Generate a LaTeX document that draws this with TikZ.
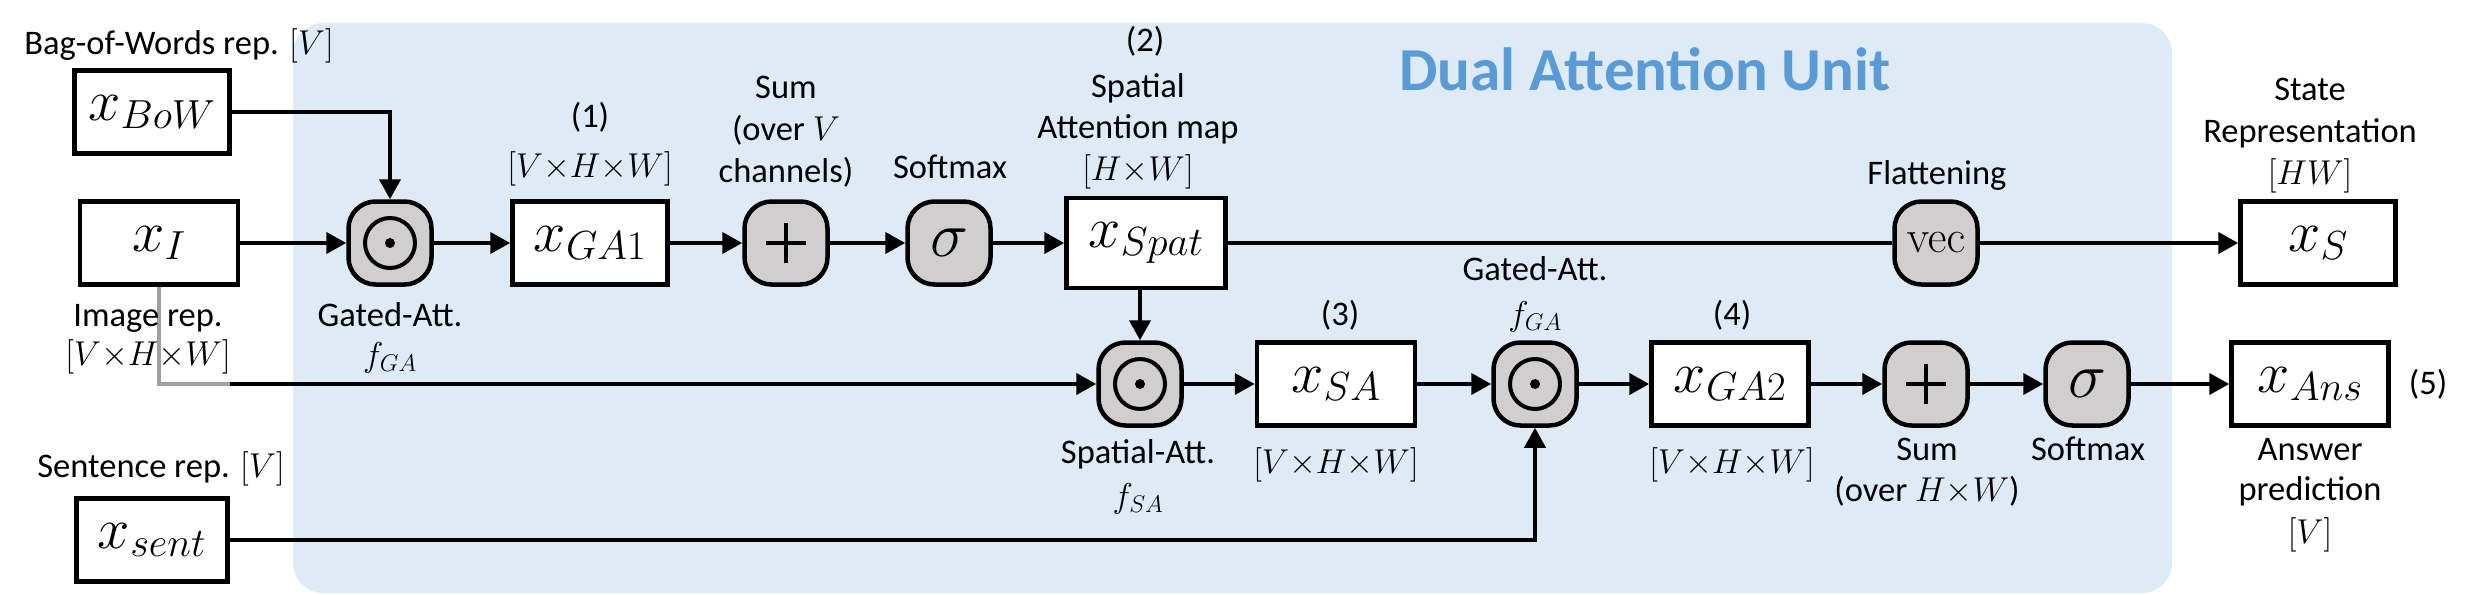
\RequirePackage{fix-cm}
\documentclass[tikz,border=0pt]{standalone}
\usepackage[no-math]{fontspec}
\setmainfont{Carlito}
\usetikzlibrary{arrows.meta}
\definecolor{bgblue}{HTML}{DEEBF7}
\definecolor{titleblue}{HTML}{5B9BD5}
\definecolor{opgray}{HTML}{D0CECE}
\definecolor{linegray}{HTML}{A0A0A0}
\tikzset{
 box/.style={draw, line width=4.5pt, fill=white, minimum width=155pt, minimum height=83pt, inner sep=0pt, font=\fontsize{58}{62}\selectfont},
 opnode/.style={draw, line width=4.5pt, fill=opgray, rounded corners=27pt, minimum width=83pt, minimum height=83pt, inner sep=0pt},
 conn/.style={line width=4pt},
 arr/.style={conn, -{Triangle[length=20pt,width=21pt]}},
 lbl/.style={anchor=base, inner sep=0pt, font=\fontsize{34.5}{41}\selectfont},
 opsym/.style={line width=4pt},
}
\begin{document}
\begin{tikzpicture}[x=1pt,y=-1pt]
\useasboundingbox (0,0) rectangle (2475,594);
\fill[bgblue, rounded corners=30pt] (293,23) rectangle (2172,593);
\node[anchor=base, inner sep=0pt, text=titleblue, font=\fontsize{61}{70}\selectfont\bfseries] (title) at (1645,90) {Dual Attention Unit};

% boxes
\node[box] (bow) at (152,112) {$x_{BoW}$};
\node[box, minimum width=158pt] (xi) at (159,243) {$x_{I}$};
\node[box] (ga1) at (590,243) {$x_{GA1}$};
\node[box, minimum width=159pt, minimum height=90pt] (spat) at (1146,243) {$x_{Spat}$};
\node[box] (xs) at (2318,243) {$x_{S}$};
\node[box, minimum width=158pt] (xsa) at (1336,384) {$x_{SA}$};
\node[box, minimum width=157pt] (ga2) at (1730,384) {$x_{GA2}$};
\node[box, minimum width=157pt] (ans) at (2310,384) {$x_{Ans}$};
\node[box, minimum width=151pt] (sent) at (152,540) {$x_{sent}$};

% operator nodes
\node[opnode] (g1) at (390,243) {};
\node[opnode] (sum1) at (786,243) {};
\node[opnode, font=\fontsize{64}{70}\selectfont] (sm1) at (949,243) {$\sigma$};
\node[opnode, font=\fontsize{46}{50}\selectfont] (vec) at (1936,243) {$\mathrm{vec}$};
\node[opnode] (sa) at (1140,384) {};
\node[opnode] (g2) at (1535,384) {};
\node[opnode] (sum2) at (1926,384) {};
\node[opnode, font=\fontsize{64}{70}\selectfont] (sm2) at (2087,384) {$\sigma$};

\foreach \n in {g1,sa,g2}{
  \draw[opsym] (\n.center) circle (25pt);
  \fill (\n.center) circle (5pt);
}
\foreach \n in {sum1,sum2}{
  \draw[opsym] ([xshift=-20pt]\n.center) -- ([xshift=20pt]\n.center);
  \draw[opsym] ([yshift=-20pt]\n.center) -- ([yshift=20pt]\n.center);
}

% connectors
\draw[arr] (bow.east) -| (g1.north);
\draw[arr] (xi.east) -- (g1.west);
\draw[arr] (g1.east) -- (ga1.west);
\draw[arr] (ga1.east) -- (sum1.west);
\draw[arr] (sum1.east) -- (sm1.west);
\draw[arr] (sm1.east) -- (spat.west);
\draw[conn] (spat.east) -- (vec.west);
\draw[arr] (vec.east) -- (xs.west);
\draw[arr] (spat.south -| sa.north) -- (sa.north);
\coordinate (gturn) at (230,384);
\draw[conn, linegray] (xi.south) |- (gturn);
\draw[arr] (gturn) -- (sa.west);
\draw[arr] (sa.east) -- (xsa.west);
\draw[arr] (xsa.east) -- (g2.west);
\draw[arr] (g2.east) -- (ga2.west);
\draw[arr] (ga2.east) -- (sum2.west);
\draw[arr] (sum2.east) -- (sm2.west);
\draw[arr] (sm2.east) -- (ans.west);
\draw[arr] (sent.east) -| (g2.south);

% labels
\node[lbl] (l-bow) at (179,55) {Bag-of-Words rep. $[V]$};
\node[lbl] (l-img1) at (148,326) {Image rep.};
\node[lbl] (l-img2) at (148,365) {$[V{\times}H{\times}W]$};
\node[lbl] (l-g1a) at (390,326) {Gated-Att.};
\node[lbl] (l-g1b) at (390,366) {$f_{GA}$};
\node[lbl] (l-n1) at (590,127) {(1)};
\node[lbl] (l-d1) at (590,177) {$[V{\times}H{\times}W]$};
\node[lbl] (l-s1a) at (786,98) {Sum};
\node[lbl] (l-s1b) at (786,140) {(over $V$};
\node[lbl] (l-s1c) at (786,182) {channels)};
\node[lbl] (l-sm1) at (950,178) {Softmax};
\node[lbl] (l-n2) at (1145,52) {(2)};
\node[lbl] (l-sp1) at (1138,97) {Spatial};
\node[lbl] (l-sp2) at (1138,138) {Attention map};
\node[lbl] (l-sp3) at (1138,180) {$[H{\times}W]$};
\node[lbl] (l-fl) at (1937,184) {Flattening};
\node[lbl] (l-st1) at (2310,100) {State};
\node[lbl] (l-st2) at (2310,142) {Representation};
\node[lbl] (l-st3) at (2310,184) {$[HW]$};
\node[lbl] (l-n3) at (1340,325) {(3)};
\node[lbl] (l-n4) at (1732,325) {(4)};
\node[lbl] (l-g2a) at (1535,280) {Gated-Att.};
\node[lbl] (l-g2b) at (1535,325) {$f_{GA}$};
\node[lbl] (l-saa) at (1138,463) {Spatial-Att.};
\node[lbl] (l-sab) at (1138,507) {$f_{SA}$};
\node[lbl] (l-d3) at (1336,473) {$[V{\times}H{\times}W]$};
\node[lbl] (l-d4) at (1732,473) {$[V{\times}H{\times}W]$};
\node[lbl] (l-s2a) at (1927,460) {Sum};
\node[lbl] (l-s2b) at (1927,501) {(over $H{\times}W$)};
\node[lbl] (l-sm2) at (2088,460) {Softmax};
\node[lbl] (l-an1) at (2310,460) {Answer};
\node[lbl] (l-an2) at (2310,500) {prediction};
\node[lbl] (l-an3) at (2310,543) {$[V]$};
\node[lbl] (l-n5) at (2428,394) {(5)};
\node[lbl] (l-sent) at (161,477) {Sentence rep. $[V]$};
\end{tikzpicture}
\end{document}
